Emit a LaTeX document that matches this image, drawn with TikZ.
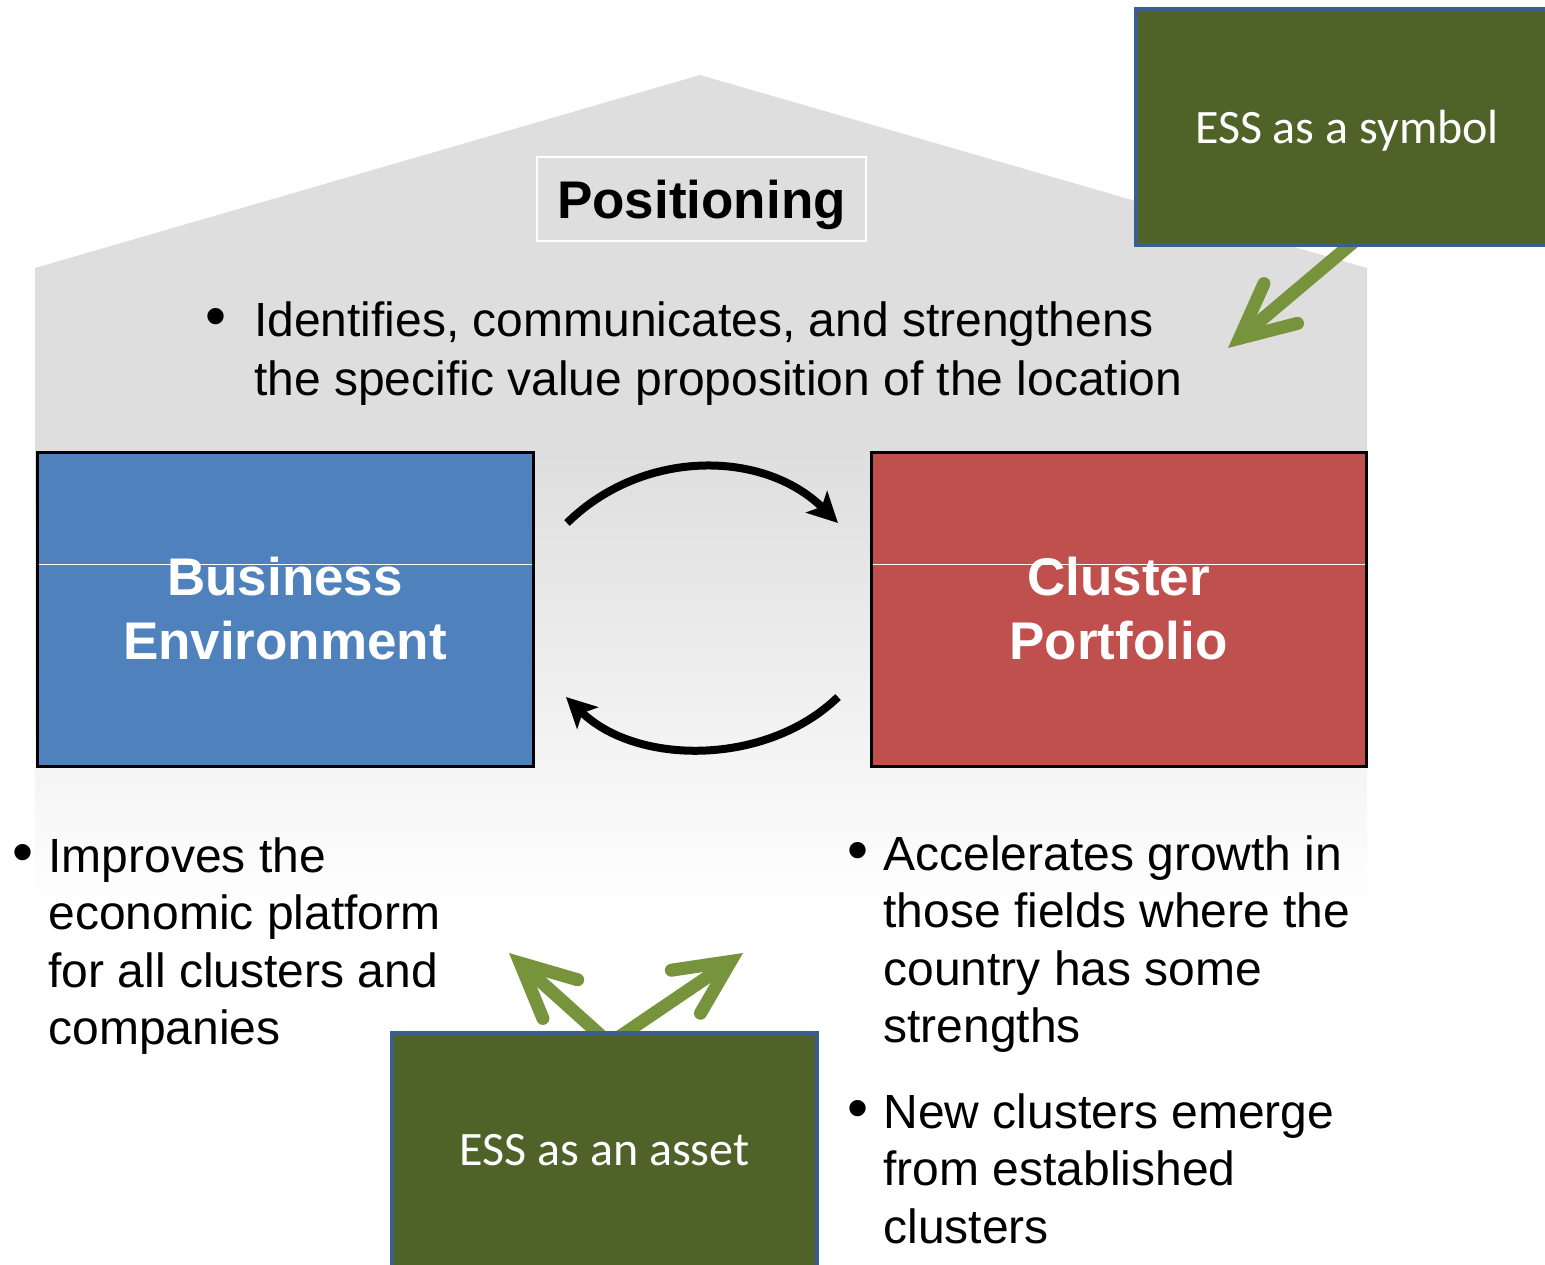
\documentclass[tikz,border=0pt]{standalone}
\usepackage{graphicx}
\usepackage{fontspec}
\setmainfont{Liberation Sans}
\newfontfamily\calib{Carlito}
\usetikzlibrary{arrows.meta}
\definecolor{housegray}{HTML}{DEDEDE}
\definecolor{beblue}{HTML}{4F81BD}
\definecolor{cpred}{HTML}{C0504D}
\definecolor{essgreen}{HTML}{4F6228}
\definecolor{essborder}{HTML}{3B5E8C}
\definecolor{arrgreen}{HTML}{77933C}
\newcommand\bigbul{\scalebox{1.25}{\textbullet}}
\pgfdeclarelayer{house}
\pgfdeclarelayer{under}
\pgfsetlayers{house,under,main}
\begin{document}
\begin{tikzpicture}[x=1pt,y=-1pt,
  box/.style={rectangle, inner sep=0pt, outer sep=0pt, line width=3pt, draw=black,
    font=\fontsize{53}{64}\selectfont\bfseries, text=white, align=center},
  ess/.style={rectangle, inner sep=0pt, outer sep=0pt, fill=essgreen, draw=essborder,
    line width=4.5pt, text=white, font=\calib\fontsize{48}{58}\selectfont, text depth=0pt},
  bul/.style={anchor=base west, inner sep=0pt, outer sep=0pt, font=\fontsize{48}{57.5}\selectfont},
  garrow/.style={draw=arrgreen, line width=13pt,
    -{Straight Barb[length=54pt,width=52pt,line cap=round,line join=miter]}},
  cyc/.style={draw=black, line width=8pt, -{Stealth[length=30pt,width=30pt,inset=7pt]}}]
\useasboundingbox (0,0) rectangle (1545,1265);
\clip (0,0) rectangle (1545,1265);

% house background
\begin{pgfonlayer}{house}
  \begin{scope}
    \clip (35,268) -- (700,75) -- (1367,268) -- (1367,1265) -- (35,1265) -- cycle;
    \fill[housegray] (0,0) rectangle (1545,452);
    \shade[top color=housegray,bottom color=white] (0,451) rectangle (1545,910);
  \end{scope}
\end{pgfonlayer}

% title
\node[draw=white, line width=2pt, fill=housegray, minimum width=329pt, minimum height=84pt,
  inner sep=0pt, font=\fontsize{53}{64}\selectfont\bfseries, text depth=0pt] (pos) at (701.5,199) {Positioning};

% main boxes
\node[box, fill=beblue, minimum width=496pt, minimum height=314pt] (be) at (285,609) {Business\\Environment};
\node[box, fill=cpred, minimum width=495pt, minimum height=314pt] (cp) at (1118.5,609) {Cluster\\Portfolio};
\draw[white, line width=1pt] ([xshift=1.5pt,yshift=-112pt]be.north west) -- ([xshift=-1.5pt,yshift=-112pt]be.north east);
\draw[white, line width=1pt] ([xshift=1.5pt,yshift=-112pt]cp.north west) -- ([xshift=-1.5pt,yshift=-112pt]cp.north east);

% ESS boxes
\node[ess, minimum width=422pt, minimum height=236pt] (sym) at (1347,127) {ESS as a symbol};
\node[ess, minimum width=425pt, minimum height=234pt] (asset) at (604.5,1150) {ESS as an asset};

% green arrows
\coordinate (symtip) at (1228,348);
\coordinate (lt) at (509,953);
\coordinate (rt) at (743,953);
\begin{pgfonlayer}{under}
  \draw[garrow] ([xshift=12.5pt,yshift=8pt]sym.south) -- (symtip);
  \draw[garrow] ([xshift=2.4pt,yshift=-8pt]asset.north) -- (lt);
  \draw[garrow] ([xshift=8.7pt,yshift=-8pt]asset.north) -- (rt);
\end{pgfonlayer}

% cycle arrows
\coordinate (c1s) at (567,523);
\coordinate (c1e) at (838,523);
\coordinate (c2s) at (838,697);
\coordinate (c2e) at (566,697);
\draw[cyc] (c1s) .. controls (642,449) and (763,449) .. (c1e);
\draw[cyc] (c2s) .. controls (767,766) and (637,766) .. (c2e);

% bullet texts
\node[bul, font=\fontsize{48}{58.5}\selectfont] (tb) at (205.9,337) {\begin{tabular}[t]{@{}l@{\hspace{27.1pt}}l@{}}\bigbul & Identifies, communicates, and strengthens\\ & the specific value proposition of the location\end{tabular}};
\node[bul] (lb) at (12.6,872) {\begin{tabular}[t]{@{}l@{\hspace{14.8pt}}l@{}}\bigbul & Improves the\\ & economic platform\\ & for all clusters and\\ & companies\end{tabular}};
\node[bul] (rb1) at (847.6,870) {\begin{tabular}[t]{@{}l@{\hspace{14.8pt}}l@{}}\bigbul & Accelerates growth in\\ & those fields where the\\ & country has some\\ & strengths\end{tabular}};
\node[bul] (rb2) at (847.6,1128) {\begin{tabular}[t]{@{}l@{\hspace{14.8pt}}l@{}}\bigbul & New clusters emerge\\ & from established\\ & clusters\end{tabular}};
\end{tikzpicture}
\end{document}
